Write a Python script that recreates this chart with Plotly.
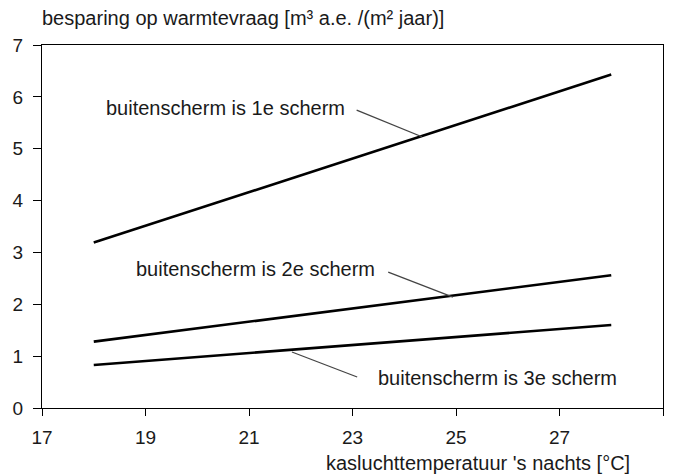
import plotly.graph_objects as go

# Data
x_temp = [18, 28]
s1_values = [3.19, 6.43]   # buitenscherm is 1e scherm
s2_values = [1.28, 2.56]   # buitenscherm is 2e scherm
s3_values = [0.83, 1.60]   # buitenscherm is 3e scherm

series_names = ["buitenscherm is 1e scherm", "buitenscherm is 2e scherm", "buitenscherm is 3e scherm"]
x_ticks = [17, 19, 21, 23, 25, 27, 29]
y_ticks = [0, 1, 2, 3, 4, 5, 6, 7]

FONT = "Liberation Sans, Arial, sans-serif"
TXT = "#1a1a1a"

fig = go.Figure()
for vals, name in zip([s1_values, s2_values, s3_values], series_names):
    fig.add_trace(go.Scatter(x=x_temp, y=vals, mode="lines", name=name,
                             line=dict(color="black", width=2.6), showlegend=False,
                             hoverinfo="x+y"))

# Labels with leader lines
labels = [
    dict(text=series_names[0], x=18.19, y=5.78, lx=[23.08, 24.34], ly=[5.746, 5.231]),
    dict(text=series_names[1], x=18.78, y=2.69, lx=[23.69, 24.94], ly=[2.622, 2.14]),
    dict(text=series_names[2], x=23.45, y=0.57, lx=[21.83, 23.09], ly=[1.08, 0.598]),
]
for lab in labels:
    fig.add_annotation(x=lab["x"], y=lab["y"], xref="x", yref="y", text=lab["text"],
                       showarrow=False, xanchor="left", yanchor="middle",
                       font=dict(family=FONT, size=20, color=TXT))
    fig.add_shape(type="line", x0=lab["lx"][0], y0=lab["ly"][0], x1=lab["lx"][1], y1=lab["ly"][1],
                  xref="x", yref="y", line=dict(color="#444444", width=1.3))

# Axis titles as annotations
fig.add_annotation(x=-0.003, y=1.074, xref="paper", yref="paper",
                   text="besparing op warmtevraag [m³ a.e. /(m² jaar)]",
                   showarrow=False, xanchor="left", yanchor="middle",
                   font=dict(family=FONT, size=20, color=TXT))
fig.add_annotation(x=25.42, y=-0.1515, xref="x", yref="paper",
                   text="kasluchttemperatuur 's nachts [°C]",
                   showarrow=False, xanchor="center", yanchor="middle",
                   font=dict(family=FONT, size=20, color=TXT))

fig.update_xaxes(range=[17, 29], tickvals=x_ticks, ticks="outside", ticklen=7, tickwidth=1.3,
                 tickcolor="black", showline=True, linecolor="black", linewidth=1.3, mirror=True,
                 showgrid=False, zeroline=False, automargin=False, ticklabelstandoff=5,
                 tickfont=dict(family=FONT, size=19, color=TXT))
fig.update_yaxes(range=[0, 7], tickvals=y_ticks, ticks="outside", ticklen=8, tickwidth=1.3,
                 tickcolor="black", showline=True, linecolor="black", linewidth=1.3, mirror=True,
                 showgrid=False, zeroline=False, automargin=False, ticklabelstandoff=6,
                 tickfont=dict(family=FONT, size=19, color=TXT))

# page body has an 8px margin, so the figure is shifted by 8px; compensate
fig.update_layout(width=665, height=467, margin=dict(l=33.5, r=9.7, t=37, b=67),
                  plot_bgcolor="white", paper_bgcolor="white", showlegend=False)

fig.write_html("out.html")
